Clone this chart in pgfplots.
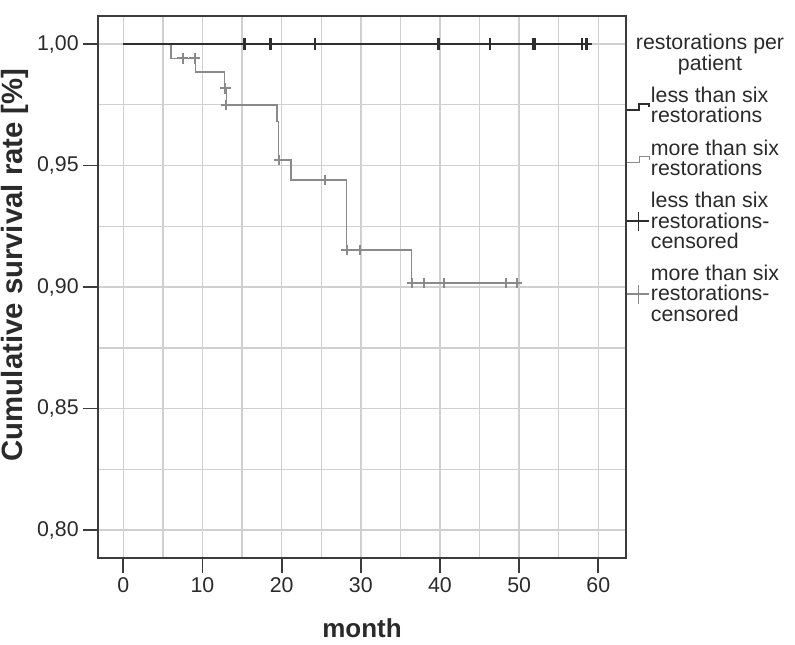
\documentclass[border=0pt]{standalone}
\usepackage{pgfplots}
\pgfplotsset{compat=1.18}
\usepackage{fontspec}
\setmainfont{Liberation Sans}
\definecolor{darkline}{HTML}{2E2E2E}
\definecolor{grayline}{HTML}{8A8A8A}
\definecolor{gridc}{HTML}{D0D0D0}
\definecolor{axisc}{HTML}{3C3C3C}
\definecolor{textc}{HTML}{2A2A2A}
\begin{document}
\begin{tikzpicture}
\path[use as bounding box] (-73.5pt,-64.5pt) rectangle (522.75pt,418.5pt);
\begin{axis}[
  at={(0pt,0pt)}, anchor=south west,
  scale only axis, width=396pt, height=406.5pt,
  xmin=-3.2, xmax=63.5, ymin=0.7885, ymax=1.0115,
  xtick={0,10,...,60}, minor xtick={5,15,...,55},
  ytick={0.80,0.85,0.90,0.95,1.00}, minor ytick={0.825,0.875,0.925,0.975},
  grid=both,
  major grid style={gridc, line width=1.1pt},
  minor grid style={gridc, line width=1.1pt},
  tick align=outside, major tick length=11pt, minor tick length=0pt,
  xtick pos=bottom, ytick pos=left,
  every tick/.style={axisc, line width=1.4pt},
  axis line style={axisc, line width=1.6pt},
  tick label style={font=\fontsize{16}{18}\selectfont, text=textc},
  /pgf/number format/assume math mode=true,
  yticklabel style={/pgf/number format/.cd, fixed, fixed zerofill, precision=2, use comma},
  xlabel={month}, ylabel={Cumulative survival rate [\%]},
  xlabel style={font=\bfseries\fontsize{19.5}{21}\selectfont, text=textc, at={(axis description cs:0.5,-0.129)}, anchor=center},
  ylabel style={font=\bfseries\fontsize{22}{24}\selectfont, text=textc, at={(axis description cs:-0.158,0.541)}, anchor=center},
  legend style={at={(axis description cs:1.0,0.8705)}, anchor=north west, draw=none, fill=none,
    font=\fontsize{16}{15.3}\selectfont, text=textc, row sep=10pt, inner sep=0pt,
    nodes={inner sep=0.5pt}, cells={anchor=west, align=left}},
  legend cell align=left,
]
% more than six restorations (gray step line)
\addplot[grayline, line width=1.1pt, forget plot] coordinates {
(0,1) (6.0,1) (6.0,0.9941) (9.1,0.9941) (9.1,0.9884) (12.8,0.9884) (12.8,0.9818)
(13.0,0.9818) (13.0,0.9749) (19.4,0.9749) (19.4,0.968) (19.6,0.968) (19.6,0.9523)
(21.2,0.9523) (21.2,0.944) (28.2,0.944) (28.2,0.9152) (36.4,0.9152) (36.4,0.9016) (50.1,0.9016)
};
% less than six restorations (dark step line)
\addplot[darkline, line width=1.5pt, forget plot] coordinates {(0,1) (59.0,1)};
% censored marks
\addplot[grayline, only marks, mark=+, mark size=4pt, mark options={line width=1.5pt}, forget plot] coordinates {
(7.5,0.9941) (9.0,0.9941) (12.9,0.9818) (13.0,0.9749) (19.7,0.9523) (25.5,0.944)
(28.2,0.9152) (29.9,0.9152) (36.5,0.9016) (38.0,0.9016) (40.5,0.9016) (48.4,0.9016) (49.7,0.9016)
};
\addplot[darkline, only marks, mark=+, mark size=4.2pt, mark options={line width=1.7pt}, forget plot] coordinates {
(15.3,1) (18.6,1) (24.2,1) (39.8,1) (46.3,1) (51.8,1) (52.0,1) (57.9,1) (58.5,1)
};
% legend
\addlegendimage{darkline, line width=1.5pt, legend image code/.code={\draw[darkline, line width=1.5pt] (0pt,-3pt) -- (9pt,-3pt) -- (9pt,1.4pt) -- (16.5pt,1.4pt) -- (16.5pt,-1pt);}}
\addlegendentry{less than six\\restorations}
\addlegendimage{grayline, line width=1.1pt, legend image code/.code={\draw[grayline, line width=1.1pt] (0pt,-3pt) -- (9pt,-3pt) -- (9pt,1.4pt) -- (16.5pt,1.4pt) -- (16.5pt,-1pt);}}
\addlegendentry{more than six\\restorations}
\addlegendimage{legend image code/.code={\draw[darkline, line width=1.3pt] (0pt,0pt) -- (16.5pt,0pt); \draw[darkline, line width=1.3pt] (8.5pt,-7pt) -- (8.5pt,7pt);}}
\addlegendentry{less than six\\restorations-\\censored}
\addlegendimage{legend image code/.code={\draw[grayline, line width=1.1pt] (0pt,0pt) -- (16.5pt,0pt); \draw[grayline, line width=1.1pt] (8.5pt,-7pt) -- (8.5pt,7pt);}}
\addlegendentry{more than six\\restorations-\\censored}
\end{axis}
\node[align=center, font=\fontsize{16}{14}\selectfont, text=textc] at (459pt,377.5pt) {restorations per\\patient};
\end{tikzpicture}
\end{document}
